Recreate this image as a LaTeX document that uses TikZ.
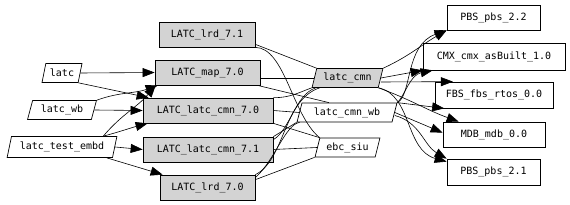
\documentclass[tikz,border=0pt]{standalone}
\usepackage{fontspec}
\setmonofont{DejaVu Sans Mono}
\usetikzlibrary{shapes.geometric,arrows.meta}
\definecolor{pkggray}{RGB}{211,211,211}
\begin{document}
\begin{tikzpicture}[x=1pt,y=-1pt,
 box/.style={draw, line width=0.7pt, font=\ttfamily\fontsize{10}{12}\selectfont, inner sep=0pt},
 pkg/.style={box, rectangle, fill=pkggray, minimum height=25pt},
 ext/.style={box, rectangle, fill=white, minimum height=25pt},
 para/.style={box, trapezium, trapezium left angle=70, trapezium right angle=110, trapezium stretches=true, minimum height=19pt, fill=white},
 dep/.style={-{Triangle[length=12pt,width=9pt]}, line width=0.6pt},
 link/.style={line width=0.6pt}]
\path[use as bounding box, fill=white] (0,0) rectangle (570,205);
% left
\node[para, minimum width=40pt] (latc) at (62,73) {latc};
\node[para, minimum width=69pt] (latcwb) at (62,110) {latc\_wb};
\node[para, minimum width=110pt, minimum height=21pt] (lte) at (62,147) {latc\_test\_embd};
% middle packages
\node[pkg, minimum width=96pt] (lrd71) at (207,34.5) {LATC\_lrd\_7.1};
\node[pkg, minimum width=105pt] (map) at (207.5,72.5) {LATC\_map\_7.0};
\node[pkg, minimum width=130pt] (c70) at (208,110.5) {LATC\_latc\_cmn\_7.0};
\node[pkg, minimum width=130pt] (c71) at (208,149.5) {LATC\_latc\_cmn\_7.1};
\node[pkg, minimum width=95pt] (lrd70) at (207.5,187.5) {LATC\_lrd\_7.0};
% components
\node[para, fill=pkggray, minimum width=71pt] (cmn) at (347.5,78) {latc\_cmn};
\node[para, minimum width=100pt] (cmnwb) at (347,112.5) {latc\_cmn\_wb};
\node[para, minimum width=65pt] (ebc) at (347.5,147.5) {ebc\_siu};
% right
\node[ext, minimum width=93pt] (pbs22) at (493.5,17.5) {PBS\_pbs\_2.2};
\node[ext, minimum width=142pt, minimum height=27pt] (cmx) at (494,56.5) {CMX\_cmx\_asBuilt\_1.0};
\node[ext, minimum width=118pt, minimum height=26pt] (fbs) at (494,95) {FBS\_fbs\_rtos\_0.0};
\node[ext, minimum width=102pt] (mdb) at (494,134.5) {MDB\_mdb\_0.0};
\node[ext, minimum width=93pt, minimum height=26pt] (pbs21) at (493.5,172) {PBS\_pbs\_2.1};
% left edges
\draw[dep] (latc.east) -- (map.west);
\draw[dep] (latc.bottom right corner) -- ([xshift=6pt]c70.north west);
\draw[dep] (latcwb.top right corner) to[out=20,in=-160] ([xshift=3pt]map.south west);
\draw[dep] (latcwb.east) -- (c70.west);
\draw[dep] ([xshift=-14pt]lte.top right corner) to[out=50,in=-130] ([xshift=1pt]map.south west);
\draw[dep] ([xshift=-14pt]lte.top right corner) to[out=15,in=-165] ([xshift=5pt]c70.south west);
\draw[dep] (lte.east) -- (c71.west);
\draw[dep] ([xshift=-6pt]lte.bottom right corner) -- ([xshift=3pt]lrd70.north west);
% middle links
\draw[link] ([yshift=3pt]lrd71.south east) -- (cmn.top left corner);
\draw[link] (lrd71.south east) .. controls (285,48) and (292,115) .. (ebc.top left corner);
\draw[link] (map.east |- cmn.west) -- (cmn.west);
\draw[link] ([xshift=-3pt]map.south east) -- ([xshift=-18pt]cmnwb.north);
\draw[link] (c70.north east) .. controls (290,98) and (300,92) .. (cmn.bottom left corner);
\draw[link] (c70.east) -- (cmnwb.west);
\draw[link] (c70.south east) -- (ebc.top left corner);
\draw[link] (c71.north east) -- (cmnwb.bottom left corner);
\draw[link] (c71.east) -- (ebc.west);
\draw[link] ([yshift=-3pt]c71.north east) .. controls (290,130) and (295,95) .. ([xshift=4pt]cmn.bottom left corner);
\draw[link] (lrd70.north east) .. controls (285,160) and (283,100) .. ([xshift=8pt]cmn.bottom left corner);
\draw[link] ([yshift=-3pt]lrd70.north east) .. controls (275,160) and (285,125) .. ([xshift=3pt]cmnwb.bottom left corner);
\draw[link] ([yshift=-5pt]lrd70.north east) -- (ebc.bottom left corner);
% right edges
\draw[dep] (cmn.top right corner) to[out=25,in=-150] (pbs22.south west);
\draw[dep] (cmnwb.top right corner) .. controls (412,95) and (405,45) .. (pbs22.south west);
\draw[dep] (cmn.east) -- (cmx.south west);
\draw[dep] (cmnwb.top right corner) .. controls (405,95) and (410,75) .. ([xshift=10pt]cmx.south west);
\draw[dep] ([yshift=-4pt]cmn.east) -- (fbs.162);
\draw[dep] (cmnwb.top right corner) -- (fbs.195);
\draw[dep] (cmn.bottom right corner) to[out=-20,in=160] (mdb.160);
\draw[dep] (cmnwb.east) -- (mdb.178);
\draw[dep] ([yshift=-3pt]cmnwb.east) to[out=-15,in=150] (pbs21.north west);
\draw[dep] (cmn.bottom right corner) .. controls (412,95) and (405,150) .. ([yshift=-3pt]pbs21.north west);
\end{tikzpicture}
\end{document}
